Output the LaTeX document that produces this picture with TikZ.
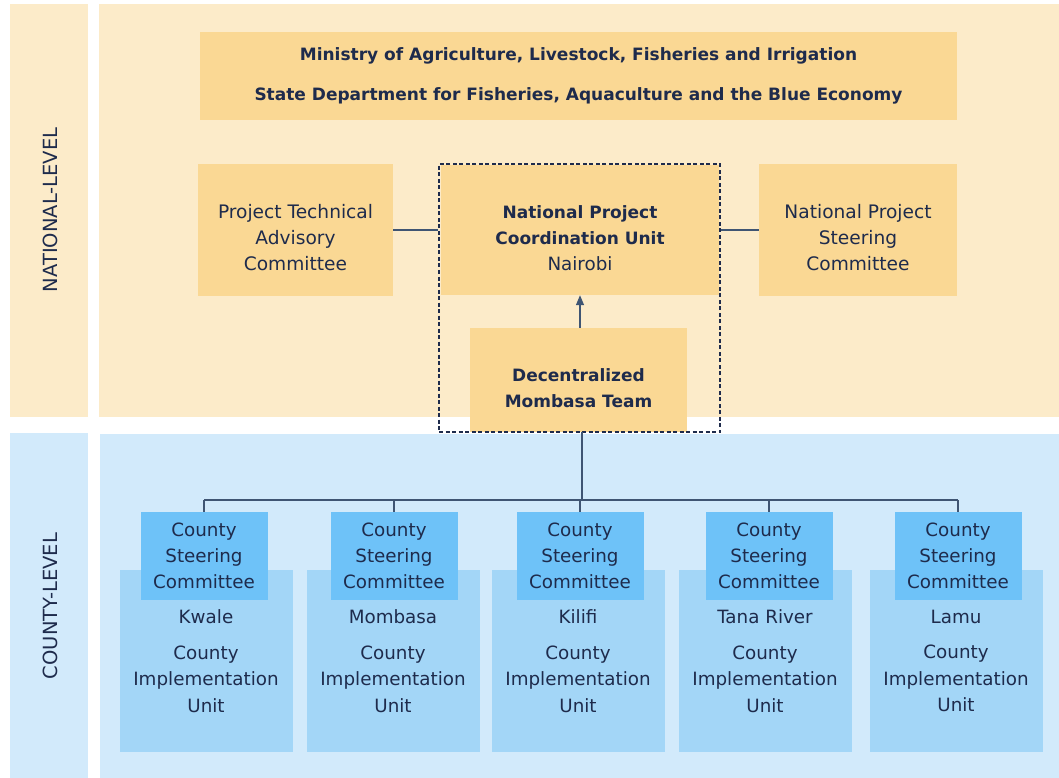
\documentclass[tikz,border=0pt]{standalone}
\usepackage{fontspec}
\setmainfont{DejaVu Sans}
\usepackage{tikz}
\usetikzlibrary{arrows.meta, positioning}
\definecolor{natlight}{HTML}{FCEBC9}
\definecolor{natbox}{HTML}{FAD894}
\definecolor{cntlight}{HTML}{D2EAFB}
\definecolor{cntbox}{HTML}{A3D6F7}
\definecolor{steercol}{HTML}{6EC2F8}
\definecolor{ink}{HTML}{1E2B4C}
\definecolor{wire}{HTML}{3F5573}
\newcommand{\padtop}{\rule{0pt}{30pt}}
\tikzset{>={Triangle[length=10pt,width=8pt]},
    panel/.style={rectangle,inner sep=0pt},
    sidelabel/.style={rotate=90,text=ink,font=\fontsize{19.5}{22}\selectfont},
    natnode/.style={rectangle,fill=natbox,text=ink,align=center,inner sep=0pt,
        font=\bfseries\fontsize{17}{26}\selectfont},
    plainnat/.style={natnode,font=\fontsize{18.6}{26}\selectfont},
    implbox/.style={rectangle,fill=cntbox,text=ink,align=center,inner sep=0pt,
        minimum width=173pt,minimum height=182pt,font=\fontsize{18.3}{26.5}\selectfont},
    steerbox/.style={rectangle,fill=steercol,text=ink,align=center,inner sep=0pt,
        minimum width=127pt,minimum height=88pt,font=\fontsize{18.3}{26}\selectfont},
    frame/.style={rectangle,draw=ink,dashed,dash pattern=on 4pt off 2.5pt,line width=1.1pt,inner sep=0pt},
    link/.style={draw=wire,line width=1.3pt}}

\begin{document}
\begin{tikzpicture}[x=1pt,y=-1pt]
\useasboundingbox (0,0) rectangle (1059,778);
% levels
\node[panel,fill=natlight,minimum width=78pt,minimum height=413pt] (natband)  at (49,210.5)  {};
\node[panel,fill=natlight,minimum width=960pt,minimum height=413pt] (natpanel) at (579,210.5) {};
\node[panel,fill=cntlight,minimum width=78pt,minimum height=345pt] (cntband)  at (49,605.5)  {};
\node[panel,fill=cntlight,minimum width=959pt,minimum height=344pt] (cntpanel) at (579.5,606) {};
\node[sidelabel] (natlabel) at (50,210) {NATIONAL-LEVEL};
\node[sidelabel] (cntlabel) at (50,606) {COUNTY-LEVEL};
% national
\node[natnode,minimum width=757pt,minimum height=88pt,font=\bfseries\fontsize{17}{40}\selectfont] (ministry) at (578.5,76)
    {Ministry of Agriculture, Livestock, Fisheries and Irrigation\\State Department for Fisheries, Aquaculture and the Blue Economy};
\node[plainnat,minimum width=195pt,minimum height=132pt] (ptac) at (295.5,230)
    {\padtop Project Technical\\Advisory\\Committee};
\node[natnode,minimum width=278pt,minimum height=130pt] (npcu) at (580,230)
    {\padtop National Project\\Coordination Unit\\{\mdseries\fontsize{18.3}{26}\selectfont Nairobi}};
\node[plainnat,minimum width=198pt,minimum height=132pt] (npsc) at (858,230)
    {\padtop National Project\\Steering\\Committee};
\node[natnode,minimum width=217pt,minimum height=104pt] (team) at (578.5,380)
    {\padtop Decentralized\\Mombasa Team};
\node[frame,minimum width=281pt,minimum height=268pt] (npcuframe) at (579.5,298) {};
\path[link] (ptac.east) -- (npcuframe.west |- ptac.east);
\path[link] (npcuframe.east |- npsc.west) -- (npsc.west);
\draw[link,->] (team.north -| npcu.south) -- (npcu.south);
% counties
\coordinate (bus) at (582,500);
\foreach \name/\x/\sx [count=\i] in {Kwale/206/204, Mombasa/393/394, Kilifi/578/580, Tana River/765/769, Lamu/956/958} {
    \node[implbox] (impl\i) at (\x,661) {\name\\[9pt]County\\Implementation\\Unit};
    \node[steerbox] (steer\i) at (\sx,556) {County\\Steering\\Committee};
    \draw[link] (steer\i.north) -- (steer\i.north |- bus);
}
\draw[link] (steer1.north |- bus) -- (steer5.north |- bus);
\draw[link] (team.south -| bus) -- (bus);
\end{tikzpicture}
\end{document}
